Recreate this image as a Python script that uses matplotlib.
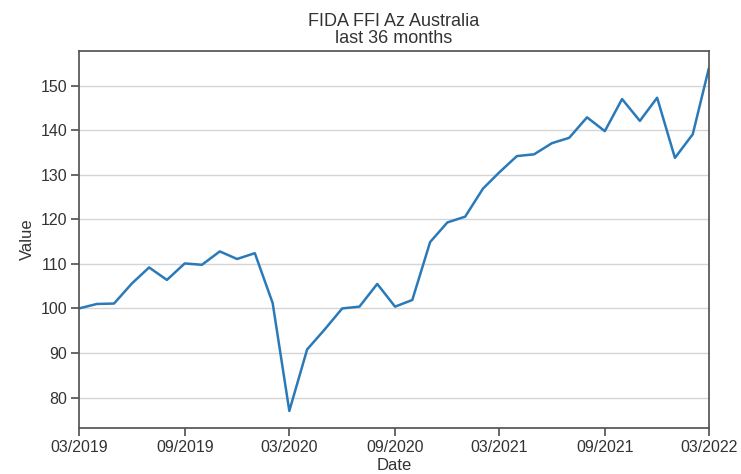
"""FIDA FFI Az Australia, last 36 months line chart."""

import pandas as pd
import seaborn as sns
import matplotlib
matplotlib.use("Agg")
import matplotlib.pyplot as plt
import matplotlib.dates as mdates

TITLE = "FIDA FFI Az Australia\nlast 36 months"
START = "2019-03-01"
END = "2022-03-01"

values = [
    100.0, 101.0, 101.1, 105.6, 109.2, 106.4, 110.1, 109.8, 112.8, 111.1,
    112.4, 101.2, 77.0, 90.8, 95.2, 100.0, 100.4, 105.5, 100.4, 101.9,
    114.9, 119.3, 120.6, 126.9, 130.5, 134.2, 134.6, 137.1, 138.3, 142.9,
    139.8, 147.0, 142.1, 147.3, 133.8, 139.1, 153.9,
]
dates = pd.date_range(START, periods=len(values), freq="MS")


def main():
    sns.set_theme(style="ticks", context="notebook")
    plt.rcParams["font.family"] = ["Liberation Sans", "DejaVu Sans"]

    fig = plt.figure(figsize=(7.41, 4.74), dpi=100)
    ax = fig.add_axes([0.1066, 0.097, 0.85, 0.795])

    ax.plot(dates, values, color="#2a7ab9", linewidth=1.8)
    ax.yaxis.grid(True, color="#d5d5d5", linewidth=1)
    ax.set_axisbelow(True)

    ax.set_xlim(pd.Timestamp(START), pd.Timestamp(END))
    ax.xaxis.set_major_locator(mdates.MonthLocator(bymonth=(3, 9)))
    ax.xaxis.set_major_formatter(mdates.DateFormatter("%m/%Y"))
    ax.set_yticks([80, 90, 100, 110, 120, 130, 140, 150])
    ax.tick_params(axis="both", labelsize=11.5, colors="#333333", pad=2.5)
    ax.tick_params(axis="both", color="#555555")

    ax.set_xlabel("Date", labelpad=2, color="#333333")
    ax.set_ylabel("Value", color="#333333")
    ax.set_title(TITLE, fontsize=13, color="#333333", linespacing=1.0)

    for sp in ax.spines.values():
        sp.set_color("#555555")

    fig.savefig("out.png", dpi=100)


if __name__ == "__main__":
    main()
